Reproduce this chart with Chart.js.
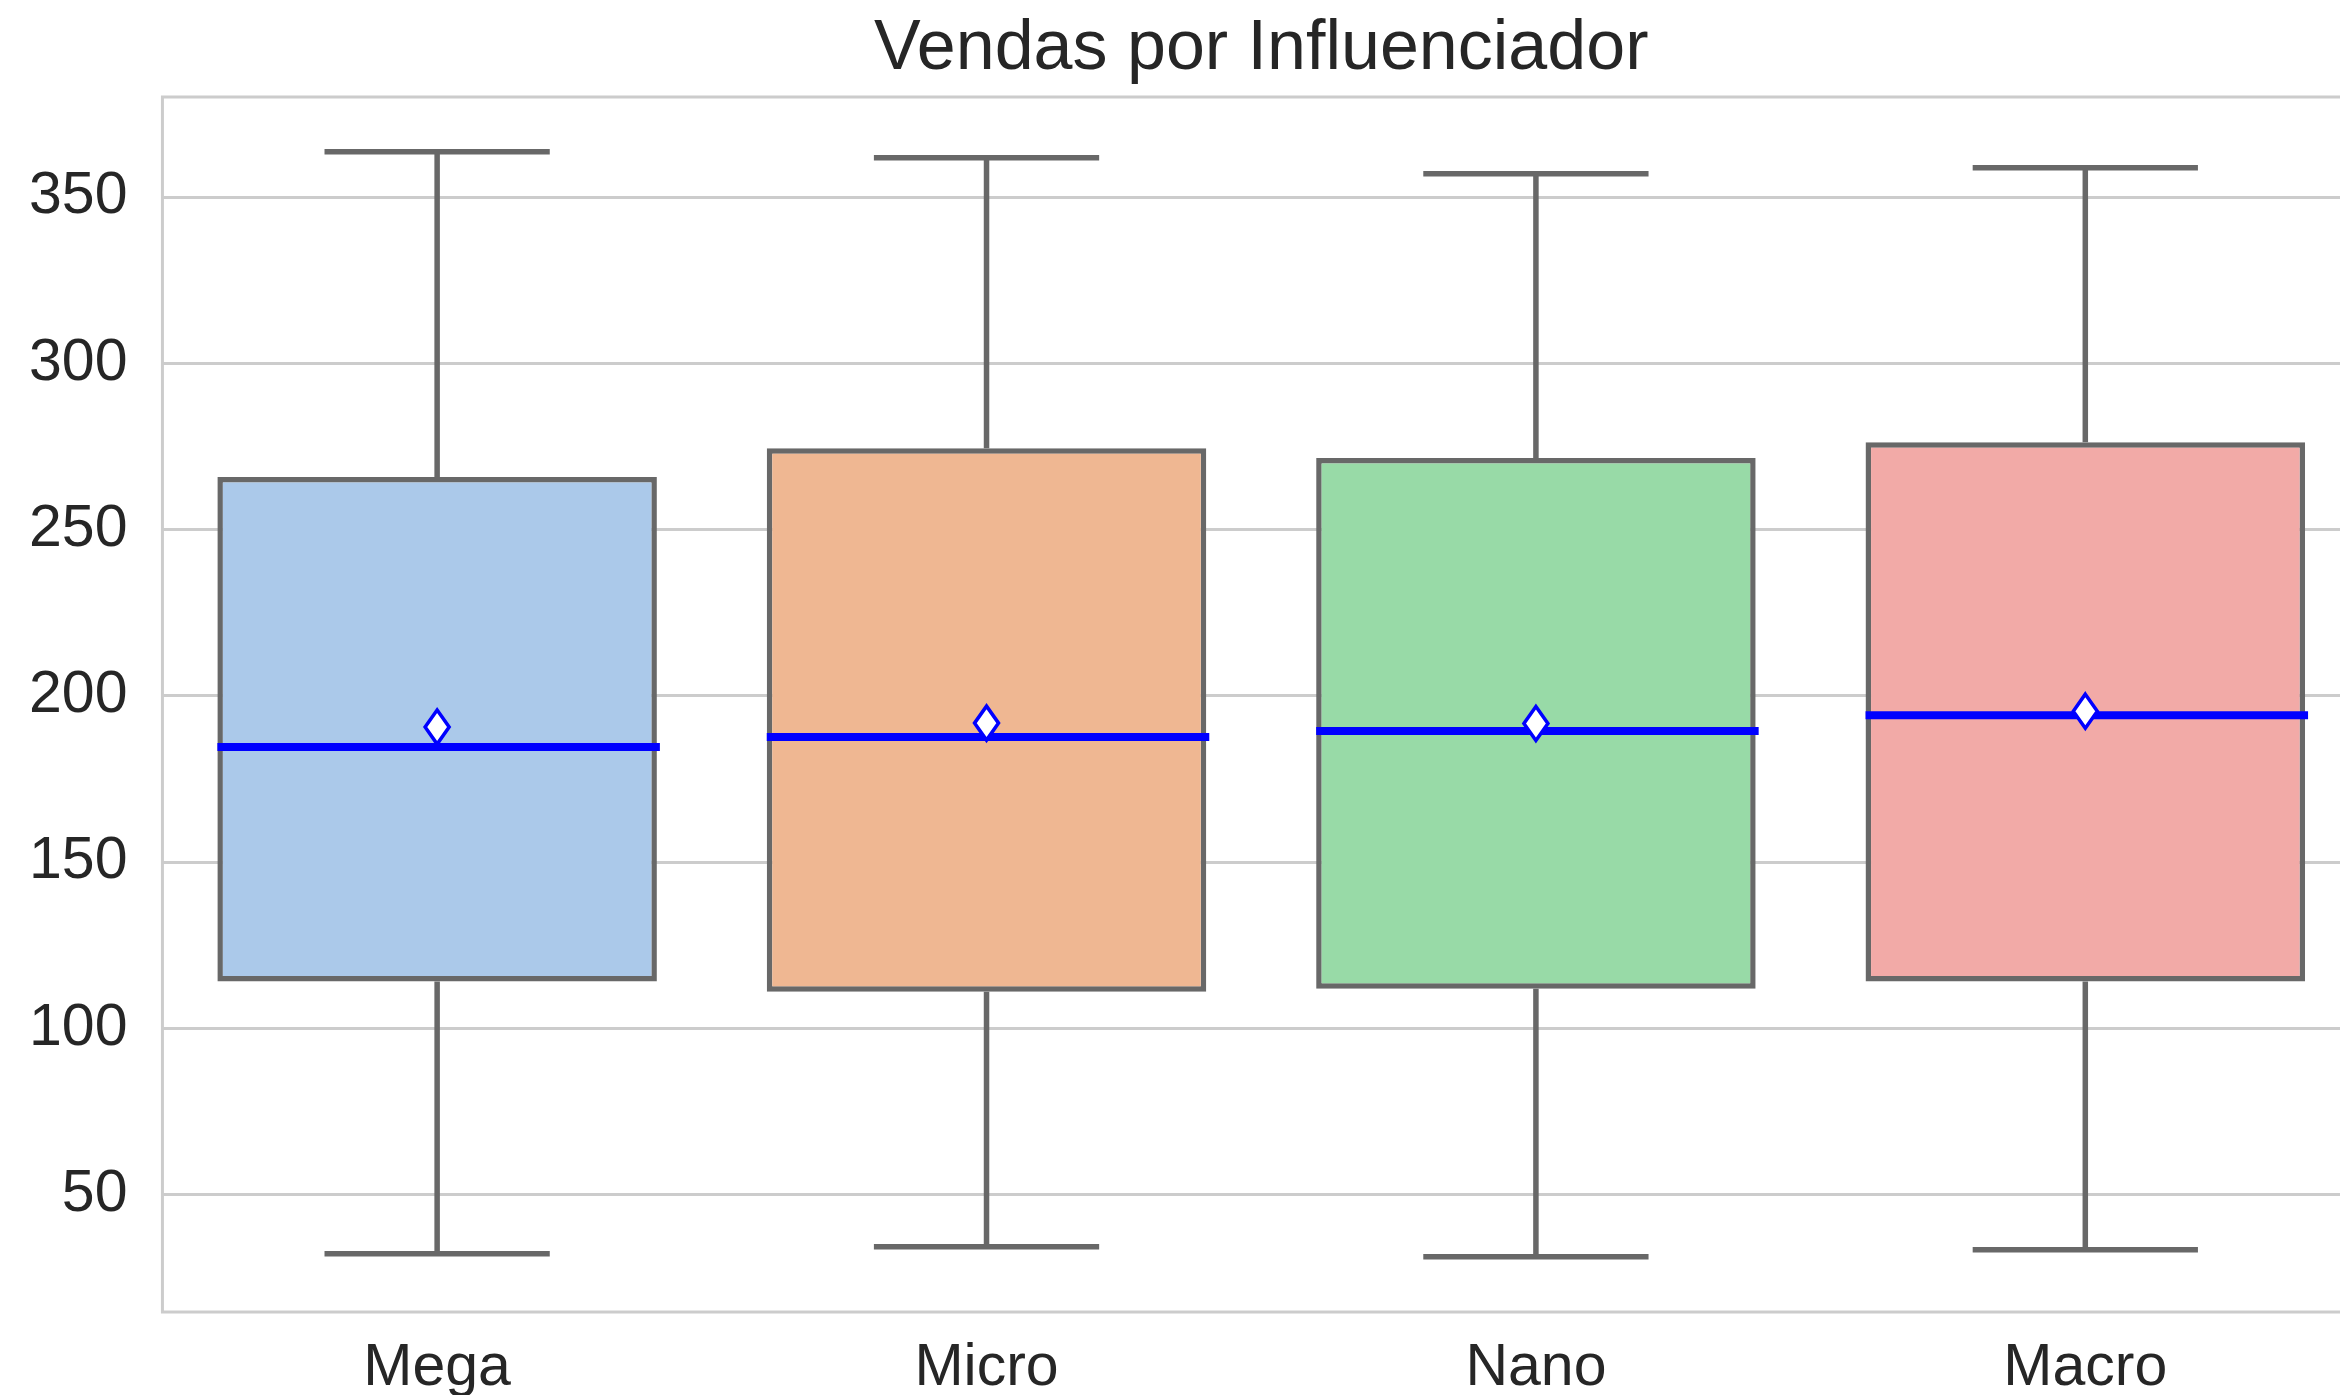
<!DOCTYPE html>
<html>
<head>
<meta charset="utf-8">
<script src="https://cdn.jsdelivr.net/npm/chart.js@4.4.0/dist/chart.umd.min.js"></script>
<style>
  html, body { margin: 0; padding: 0; background: #fff; overflow: hidden; }
  #wrap { width: 2520px; height: 1395px; }
</style>
</head>
<body>
<div id="wrap"><canvas id="graph" width="2520" height="1395"></canvas></div>
<script>
// values
const categories = ['Mega', 'Micro', 'Nano', 'Macro'];
const whiskerLow = [32.2, 34.3, 31.3, 33.4];
const q1 = [114.1, 111.0, 111.9, 114.1];
const medians = [184.6, 187.6, 189.4, 194.2];
const q3 = [265.8, 274.5, 271.5, 276.3];
const whiskerHigh = [363.6, 361.8, 357.0, 358.8];
const means = [190.6, 191.8, 191.7, 195.4];
const yTicks = [50, 100, 150, 200, 250, 300, 350];
const yMin = 14.7;
const yMax = 380.1;

const boxColors = ['#abc9ea', '#efb792', '#98daa7', '#f2aaa7'];
const edgeColor = '#686868';
const gridColor = '#cccccc';
const textColor = '#262626';
const fontFamily = "'Liberation Sans', Arial, sans-serif";

const boxParts = {
    id: 'boxParts',
    beforeDatasetsDraw(chart) {
        const {ctx, chartArea, scales: {x, y}} = chart;
        ctx.save();
        // frame
        ctx.strokeStyle = gridColor;
        ctx.lineWidth = 3;
        ctx.strokeRect(chartArea.left, chartArea.top, chartArea.right - chartArea.left, chartArea.bottom - chartArea.top);

        // whiskers and caps
        ctx.strokeStyle = edgeColor;
        ctx.lineWidth = 5.5;
        categories.forEach((c, i) => {
            const cx = x.getPixelForValue(i);
            const capL = x.getPixelForValue(i - 0.2);
            const capR = x.getPixelForValue(i + 0.2);
            ctx.lineCap = 'butt';
            ctx.beginPath();
            ctx.moveTo(cx, y.getPixelForValue(q3[i]));
            ctx.lineTo(cx, y.getPixelForValue(whiskerHigh[i]));
            ctx.moveTo(cx, y.getPixelForValue(q1[i]));
            ctx.lineTo(cx, y.getPixelForValue(whiskerLow[i]));
            ctx.stroke();
            ctx.lineCap = 'square';
            ctx.beginPath();
            ctx.moveTo(capL, y.getPixelForValue(whiskerHigh[i]));
            ctx.lineTo(capR, y.getPixelForValue(whiskerHigh[i]));
            ctx.moveTo(capL, y.getPixelForValue(whiskerLow[i]));
            ctx.lineTo(capR, y.getPixelForValue(whiskerLow[i]));
            ctx.stroke();
        });
        ctx.restore();
    },
    afterDatasetsDraw(chart) {
        const {ctx, scales: {x, y}} = chart;
        ctx.save();
        categories.forEach((c, i) => {
            const cx = x.getPixelForValue(i);
            // median
            const my = y.getPixelForValue(medians[i]);
            ctx.strokeStyle = '#0000ff';
            ctx.lineWidth = 8;
            ctx.lineCap = 'butt';
            ctx.beginPath();
            ctx.moveTo(x.getPixelForValue(i - 0.4), my);
            ctx.lineTo(x.getPixelForValue(i + 0.4) + 3, my);
            ctx.stroke();
            // mean (thin diamond)
            const ay = y.getPixelForValue(means[i]);
            ctx.beginPath();
            ctx.moveTo(cx, ay - 17);
            ctx.lineTo(cx + 12, ay);
            ctx.lineTo(cx, ay + 17);
            ctx.lineTo(cx - 12, ay);
            ctx.closePath();
            ctx.fillStyle = '#ffffff';
            ctx.fill();
            ctx.lineWidth = 3.5;
            ctx.strokeStyle = '#0000ff';
            ctx.stroke();
        });
        ctx.restore();
    }
};

new Chart(document.getElementById('graph'), {
    type: 'bar',
    data: {
        labels: categories,
        datasets: [{
            label: 'Vendas',
            data: categories.map((c, i) => [q1[i], q3[i]]),
            backgroundColor: boxColors,
            borderColor: edgeColor,
            borderWidth: 5.5,
            borderSkipped: false,
            categoryPercentage: 1,
            barPercentage: 0.8
        }]
    },
    options: {
        responsive: false,
        animation: false,
        devicePixelRatio: 1,
        layout: { padding: { left: -6, right: 160, top: 0, bottom: -30 } },
        plugins: {
            legend: { display: false },
            tooltip: { enabled: false },
            title: {
                display: true,
                text: 'Vendas por Influenciador',
                fullSize: false,
                color: textColor,
                font: { family: fontFamily, size: 70, weight: 'normal', lineHeight: 1.0 },
                padding: { top: 15, bottom: 12 }
            }
        },
        scales: {
            x: {
                offset: true,
                grid: { display: false, drawTicks: false },
                border: { display: false },
                ticks: {
                    color: textColor,
                    padding: 27,
                    font: { family: fontFamily, size: 59, lineHeight: 1.0 }
                }
            },
            y: {
                min: yMin,
                max: yMax,
                afterBuildTicks: (axis) => { axis.ticks = yTicks.map(v => ({ value: v })); },
                grid: { color: gridColor, lineWidth: 3, drawTicks: false },
                border: { display: false },
                ticks: {
                    color: textColor,
                    padding: 35,
                    font: { family: fontFamily, size: 59, lineHeight: 1.0 }
                }
            }
        }
    },
    plugins: [boxParts]
});
</script>
</body>
</html>
